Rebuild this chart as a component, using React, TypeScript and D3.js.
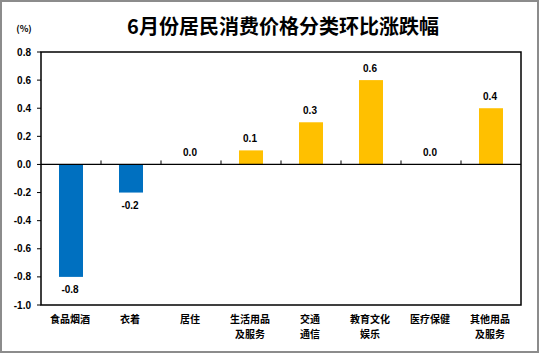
import React from "react";
import * as d3 from "d3";

const categories = ["食品烟酒", "衣着", "居住", "生活用品\n及服务", "交通\n通信", "教育文化\n娱乐", "医疗保健", "其他用品\n及服务"];
const values = [-0.8, -0.2, 0.0, 0.1, 0.3, 0.6, 0.0, 0.4];
const yTicks = [0.8, 0.6, 0.4, 0.2, 0.0, -0.2, -0.4, -0.6, -0.8, -1.0];

const W = 541, H = 355;
const left = 41, right = 521, top = 52, bottom = 305;

export default function App() {
  const x = d3.scaleBand<string>().domain(categories).range([left, right]).paddingInner(0.6).paddingOuter(0.3);
  const xb = d3.scaleBand<string>().domain(categories).range([left, right]);
  const y = d3.scaleLinear().domain([-1.0, 0.8]).range([bottom, top]);
  const num = "'Liberation Sans', Arial, sans-serif";
  const cjk = "'Noto Sans CJK SC', sans-serif";
  return (
    <svg width={W} height={H} style={{ position: "absolute", left: 0, top: 0, background: "#fff" }}>
      <rect x={1} y={1} width={537} height={351} fill="#fff" stroke="#8c8c8c" strokeWidth={2} />
      <text x={283} y={34} textAnchor="middle" fontFamily={cjk} fontWeight="bold" fontSize={20} fill="#000">6月份居民消费价格分类环比涨跌幅</text>
      <text x={24} y={32} textAnchor="middle" fontFamily={cjk} fontWeight="bold" fontSize={9} fill="#000">(%)</text>
      {values.map((v, i) => {
        const c = categories[i];
        const y0 = y(0), y1 = y(v);
        return (
          <rect key={i} x={x(c)} y={Math.min(y0, y1)} width={x.bandwidth()} height={Math.abs(y1 - y0)} fill={v < 0 ? "#0070C0" : "#FFC000"} />
        );
      })}
      <rect x={left} y={top} width={right - left} height={bottom - top} fill="none" stroke="#000" strokeWidth={1.5} />
      <line x1={left} x2={right} y1={y(0)} y2={y(0)} stroke="#000" strokeWidth={1.2} />
      {categories.slice(1).map((c, i) => (
        <line key={i} x1={xb(c)} x2={xb(c)} y1={y(0)} y2={y(0) - 4} stroke="#000" strokeWidth={1} />
      ))}
      {yTicks.map((t, i) => (
        <g key={i}>
          <line x1={left - 4} x2={left} y1={y(t)} y2={y(t)} stroke="#000" strokeWidth={1} />
          <text x={31} y={y(t) + 3.5} textAnchor="end" fontFamily={num} fontWeight="bold" fontSize={10} fill="#000">{t.toFixed(1)}</text>
        </g>
      ))}
      {values.map((v, i) => {
        const c = categories[i];
        const cx = (xb(c) as number) + xb.bandwidth() / 2;
        const ty = v < 0 ? y(v) + 16 : y(v) - 8;
        return (
          <text key={i} x={cx - 1} y={ty} textAnchor="middle" fontFamily={num} fontWeight="bold" fontSize={10} fill="#000">{v.toFixed(1)}</text>
        );
      })}
      {categories.map((c, i) => {
        const cx = (xb(c) as number) + xb.bandwidth() / 2;
        return c.split("\n").map((line, j) => (
          <text key={i + "-" + j} x={cx - 1} y={323 + j * 15} textAnchor="middle" fontFamily={cjk} fontWeight="bold" fontSize={10} fill="#000">{line}</text>
        ));
      })}
    </svg>
  );
}
